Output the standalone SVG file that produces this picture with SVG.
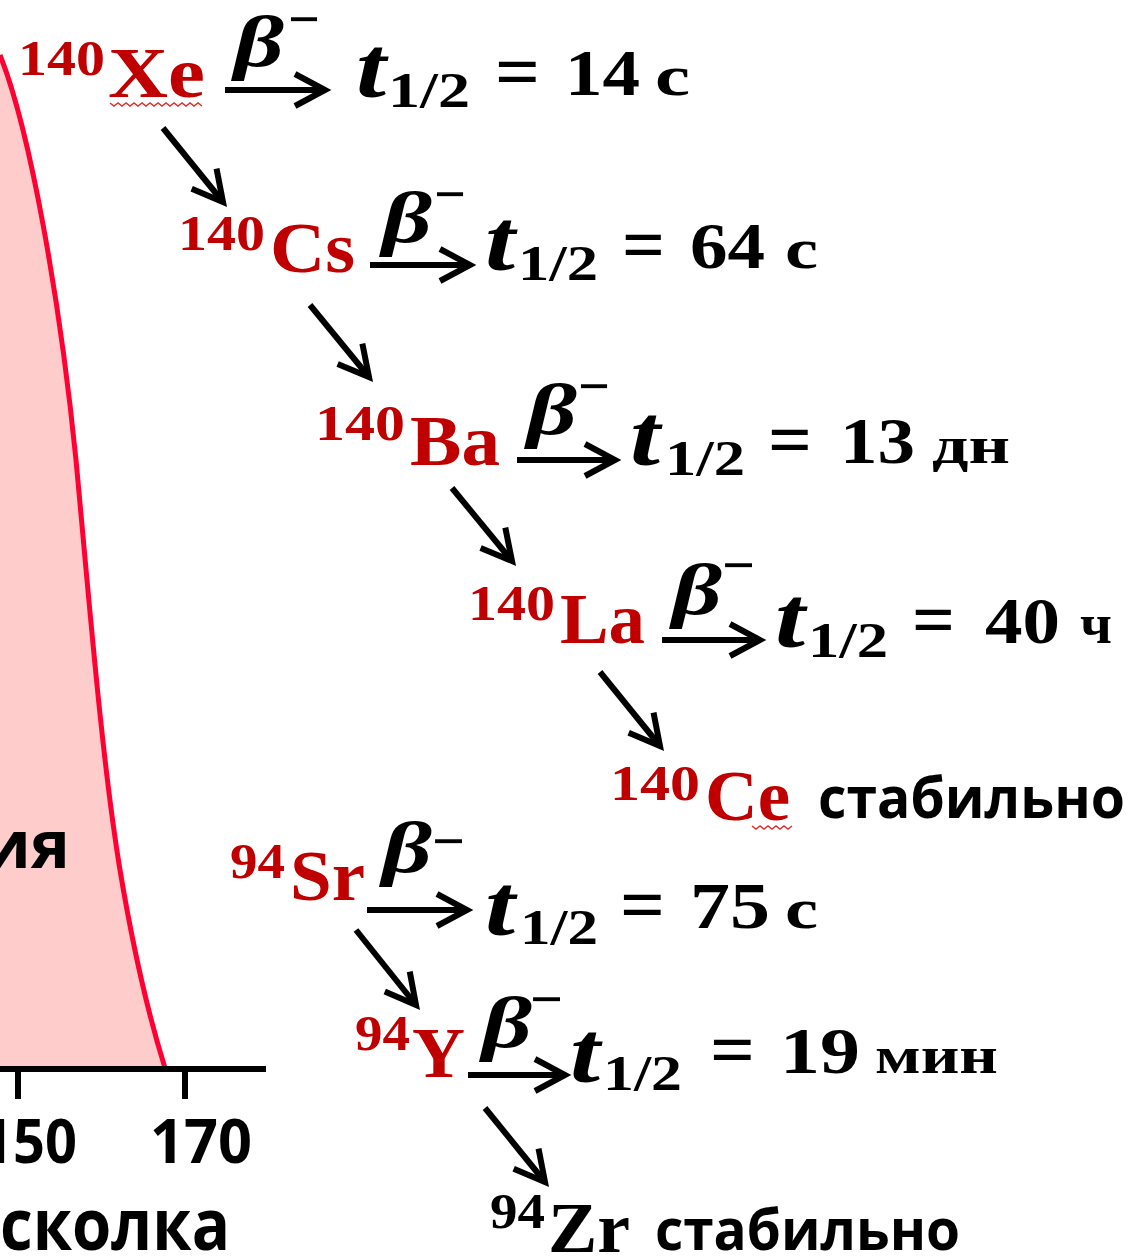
<svg xmlns="http://www.w3.org/2000/svg" width="1131" height="1256" viewBox="0 0 1131 1256">
<defs>
<marker id="chev" markerUnits="userSpaceOnUse" markerWidth="60" markerHeight="60" viewBox="-40 -30 50 60" refX="0" refY="0" orient="auto">
<path d="M-30,-16 L0,0 L-30,16" fill="none" stroke="#000" stroke-width="6" stroke-linejoin="miter" stroke-linecap="butt"/>
</marker>
<style>
.el{font-family:"Liberation Serif","DejaVu Serif",serif;font-weight:bold;fill:#c00000}
.blk{font-family:"Liberation Serif","DejaVu Serif",serif;font-weight:bold;fill:#000}
.it{font-family:"Liberation Serif","DejaVu Serif",serif;font-weight:bold;font-style:italic;fill:#000}
.sans{font-family:"Open Sans","Noto Sans","DejaVu Sans",sans-serif;font-weight:bold;fill:#000}
.sup{font-size:50px}
.sym{font-size:72px}
.beta{font-size:72px}
.minus{font-size:56px}
.tt{font-size:86px}
.sub{font-size:50px}
.eq{font-size:76px}
.num{font-size:66px}
.unit{font-size:56px}
.arr{stroke:#000;stroke-width:6;fill:none;marker-end:url(#chev)}
.wavy{stroke:#e03030;stroke-width:1.5;fill:none}
</style>
</defs>

<g id="chart">
<path d="M0,55 C30,130 60,300 76,460 C90,610 102,760 120,870 C135,960 150,1020 165,1068 L0,1068 Z" fill="#ffcccc"/>
<path d="M0,55 C30,130 60,300 76,460 C90,610 102,760 120,870 C135,960 150,1020 165,1068" fill="none" stroke="#ff0033" stroke-width="5"/>
<line x1="0" y1="1069" x2="266" y2="1069" stroke="#000" stroke-width="6"/>
<line x1="18" y1="1069" x2="18" y2="1099" stroke="#000" stroke-width="6"/>
<line x1="185" y1="1069" x2="185" y2="1099" stroke="#000" stroke-width="6"/>
<text class="sans" x="70" y="868" font-size="66" text-anchor="end">ия</text>
<text class="sans" x="77" y="1163" font-size="60" text-anchor="end" textLength="96" lengthAdjust="spacingAndGlyphs">150</text>
<text class="sans" x="150" y="1163" font-size="60" textLength="102" lengthAdjust="spacingAndGlyphs">170</text>
<text class="sans" x="0" y="1250" font-size="72" textLength="230" lengthAdjust="spacingAndGlyphs">сколка</text>
</g>

<g id="connectors">
<line class="arr" x1="225" y1="90" x2="325" y2="90"/>
<line class="arr" x1="370" y1="265" x2="470" y2="265"/>
<line class="arr" x1="517" y1="460" x2="615" y2="460"/>
<line class="arr" x1="662" y1="640" x2="760" y2="640"/>
<line class="arr" x1="367" y1="910" x2="467" y2="910"/>
<line class="arr" x1="468" y1="1075" x2="565" y2="1075"/>
<line class="arr" x1="163" y1="128" x2="223" y2="202"/>
<line class="arr" x1="310" y1="305" x2="369" y2="377"/>
<line class="arr" x1="452" y1="488" x2="512" y2="561"/>
<line class="arr" x1="600" y1="672" x2="660" y2="746"/>
<line class="arr" x1="356" y1="930" x2="416" y2="1005"/>
<line class="arr" x1="485" y1="1108" x2="545" y2="1182"/>
</g>

<g id="node-xe140">
<text class="el sup" x="18" y="75" textLength="87" lengthAdjust="spacingAndGlyphs">140</text>
<text class="el sym" x="108" y="97" textLength="97" lengthAdjust="spacingAndGlyphs">Xe</text>
<path class="wavy" d="M110,103 l4,3 l4,-3 l4,3 l4,-3 l4,3 l4,-3 l4,3 l4,-3 l4,3 l4,-3 l4,3 l4,-3 l4,3 l4,-3 l4,3 l4,-3 l4,3 l4,-3 l4,3 l4,-3 l4,3 l4,-3 l4,3"/>
<text class="it beta" x="234" y="66" textLength="50" lengthAdjust="spacingAndGlyphs">β</text>
<text class="blk minus" x="288" y="38" textLength="32" lengthAdjust="spacingAndGlyphs">−</text>
<text class="it tt" x="356" y="97" textLength="30" lengthAdjust="spacingAndGlyphs">t</text>
<text class="blk sub" x="388" y="107" textLength="82" lengthAdjust="spacingAndGlyphs">1/2</text>
<text class="blk eq" x="495" y="97" textLength="45" lengthAdjust="spacingAndGlyphs">=</text>
<text class="blk num" x="565" y="95" textLength="75" lengthAdjust="spacingAndGlyphs">14</text>
<text class="blk unit" x="655" y="95" textLength="35" lengthAdjust="spacingAndGlyphs">с</text>
</g>

<g id="node-cs140">
<text class="el sup" x="178" y="250" textLength="87" lengthAdjust="spacingAndGlyphs">140</text>
<text class="el sym" x="270" y="272" textLength="85" lengthAdjust="spacingAndGlyphs">Cs</text>
<text class="it beta" x="382" y="242" textLength="50" lengthAdjust="spacingAndGlyphs">β</text>
<text class="blk minus" x="434" y="213" textLength="32" lengthAdjust="spacingAndGlyphs">−</text>
<text class="it tt" x="485" y="270" textLength="30" lengthAdjust="spacingAndGlyphs">t</text>
<text class="blk sub" x="518" y="280" textLength="80" lengthAdjust="spacingAndGlyphs">1/2</text>
<text class="blk eq" x="622" y="270" textLength="43" lengthAdjust="spacingAndGlyphs">=</text>
<text class="blk num" x="690" y="268" textLength="75" lengthAdjust="spacingAndGlyphs">64</text>
<text class="blk unit" x="785" y="268" textLength="33" lengthAdjust="spacingAndGlyphs">с</text>
</g>

<g id="node-ba140">
<text class="el sup" x="315" y="440" textLength="90" lengthAdjust="spacingAndGlyphs">140</text>
<text class="el sym" x="410" y="465" textLength="90" lengthAdjust="spacingAndGlyphs">Ba</text>
<text class="it beta" x="527" y="434" textLength="50" lengthAdjust="spacingAndGlyphs">β</text>
<text class="blk minus" x="578" y="405" textLength="32" lengthAdjust="spacingAndGlyphs">−</text>
<text class="it tt" x="630" y="465" textLength="30" lengthAdjust="spacingAndGlyphs">t</text>
<text class="blk sub" x="665" y="475" textLength="80" lengthAdjust="spacingAndGlyphs">1/2</text>
<text class="blk eq" x="768" y="465" textLength="44" lengthAdjust="spacingAndGlyphs">=</text>
<text class="blk num" x="840" y="463" textLength="75" lengthAdjust="spacingAndGlyphs">13</text>
<text class="blk" x="932" y="463" font-size="52" textLength="78" lengthAdjust="spacingAndGlyphs">дн</text>
</g>

<g id="node-la140">
<text class="el sup" x="468" y="620" textLength="87" lengthAdjust="spacingAndGlyphs">140</text>
<text class="el sym" x="560" y="643" textLength="85" lengthAdjust="spacingAndGlyphs">La</text>
<text class="it beta" x="672" y="614" textLength="50" lengthAdjust="spacingAndGlyphs">β</text>
<text class="blk minus" x="722" y="584" textLength="33" lengthAdjust="spacingAndGlyphs">−</text>
<text class="it tt" x="775" y="647" textLength="30" lengthAdjust="spacingAndGlyphs">t</text>
<text class="blk sub" x="808" y="657" textLength="80" lengthAdjust="spacingAndGlyphs">1/2</text>
<text class="blk eq" x="912" y="645" textLength="43" lengthAdjust="spacingAndGlyphs">=</text>
<text class="blk num" x="985" y="643" textLength="75" lengthAdjust="spacingAndGlyphs">40</text>
<text class="blk unit" x="1080" y="643" textLength="32" lengthAdjust="spacingAndGlyphs">ч</text>
</g>

<g id="node-ce140">
<text class="el sup" x="610" y="800" textLength="90" lengthAdjust="spacingAndGlyphs">140</text>
<text class="el sym" x="705" y="820" textLength="85" lengthAdjust="spacingAndGlyphs">Ce</text>
<path class="wavy" d="M752,826 l4,3 l4,-3 l4,3 l4,-3 l4,3 l4,-3 l4,3 l4,-3 l4,3 l4,-3"/>
<text class="sans" x="818" y="818" font-size="58" textLength="307" lengthAdjust="spacingAndGlyphs">стабильно</text>
</g>

<g id="node-sr94">
<text class="el sup" x="230" y="878" textLength="55" lengthAdjust="spacingAndGlyphs">94</text>
<text class="el sym" x="290" y="900" textLength="75" lengthAdjust="spacingAndGlyphs">Sr</text>
<text class="it beta" x="382" y="872" textLength="50" lengthAdjust="spacingAndGlyphs">β</text>
<text class="blk minus" x="432" y="860" textLength="33" lengthAdjust="spacingAndGlyphs">−</text>
<text class="it tt" x="485" y="935" textLength="30" lengthAdjust="spacingAndGlyphs">t</text>
<text class="blk sub" x="520" y="944" textLength="78" lengthAdjust="spacingAndGlyphs">1/2</text>
<text class="blk eq" x="620" y="930" textLength="45" lengthAdjust="spacingAndGlyphs">=</text>
<text class="blk num" x="690" y="928" textLength="80" lengthAdjust="spacingAndGlyphs">75</text>
<text class="blk unit" x="785" y="928" textLength="33" lengthAdjust="spacingAndGlyphs">с</text>
</g>

<g id="node-y94">
<text class="el sup" x="355" y="1050" textLength="55" lengthAdjust="spacingAndGlyphs">94</text>
<text class="el sym" x="412" y="1077" textLength="53" lengthAdjust="spacingAndGlyphs">Y</text>
<text class="it beta" x="482" y="1047" textLength="50" lengthAdjust="spacingAndGlyphs">β</text>
<text class="blk minus" x="530" y="1018" textLength="33" lengthAdjust="spacingAndGlyphs">−</text>
<text class="it tt" x="570" y="1082" textLength="30" lengthAdjust="spacingAndGlyphs">t</text>
<text class="blk sub" x="603" y="1090" textLength="79" lengthAdjust="spacingAndGlyphs">1/2</text>
<text class="blk eq" x="710" y="1075" textLength="45" lengthAdjust="spacingAndGlyphs">=</text>
<text class="blk num" x="780" y="1073" textLength="80" lengthAdjust="spacingAndGlyphs">19</text>
<text class="blk" x="875" y="1073" font-size="52" textLength="123" lengthAdjust="spacingAndGlyphs">мин</text>
</g>

<g id="node-zr94">
<text class="blk sup" x="490" y="1228" textLength="55" lengthAdjust="spacingAndGlyphs">94</text>
<text class="blk sym" x="548" y="1252" textLength="82" lengthAdjust="spacingAndGlyphs">Zr</text>
<text class="sans" x="655" y="1250" font-size="58" textLength="305" lengthAdjust="spacingAndGlyphs">стабильно</text>
</g>
</svg>
